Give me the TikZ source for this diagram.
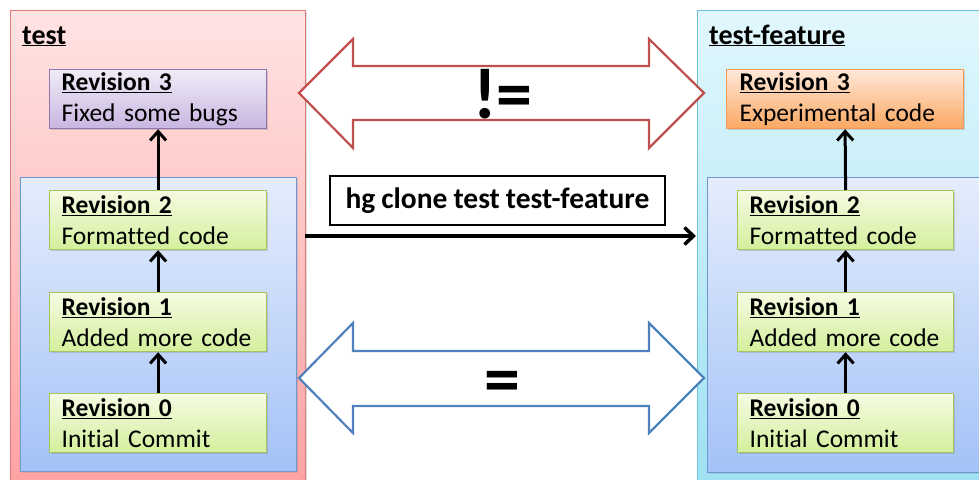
\documentclass[tikz,border=0pt]{standalone}
\usepackage{fontspec}
\setmainfont{Carlito}[Ligatures=NoCommon, WordSpace=0.9]
\usetikzlibrary{arrows.meta,shadows}
\definecolor{redB}{HTML}{DD7B79}
\definecolor{redT}{HTML}{FFE3E3}
\definecolor{redBot}{HTML}{FFA0A0}
\definecolor{bluB}{HTML}{6F97D2}
\definecolor{bluT}{HTML}{E5EDFC}
\definecolor{bluBot}{HTML}{A4C2F7}
\definecolor{cyaB}{HTML}{6CC4DA}
\definecolor{cyaT}{HTML}{E2F7FD}
\definecolor{cyaBot}{HTML}{9CE0F1}
\definecolor{grnB}{HTML}{A5C45E}
\definecolor{grnT}{HTML}{F6FBE3}
\definecolor{grnBot}{HTML}{D3EF9C}
\definecolor{purB}{HTML}{8E75AE}
\definecolor{purT}{HTML}{F0EBF7}
\definecolor{purBot}{HTML}{C9B6E1}
\definecolor{orgB}{HTML}{F39A55}
\definecolor{orgT}{HTML}{FEE8D9}
\definecolor{orgBot}{HTML}{FBA862}
\definecolor{dblRed}{HTML}{C0504D}
\definecolor{dblBlue}{HTML}{4F81BD}
\tikzset{
  panel/.style={draw, line width=1.2pt, rectangle, anchor=north west, inner sep=0pt,
    drop shadow={opacity=0.25, shadow xshift=1.5pt, shadow yshift=-1.5pt}},
  revbox/.style={draw, line width=1.2pt, rectangle, anchor=north west, inner xsep=12pt, inner ysep=0pt,
    minimum height=59pt, align=left, font=\fontsize{25.5}{31}\selectfont,
    drop shadow={opacity=0.3, shadow xshift=1.5pt, shadow yshift=-1.5pt}},
  greenrev/.style={revbox, draw=grnB, top color=grnT, bottom color=grnBot, text width=192pt},
  title/.style={anchor=base west, inner sep=0pt, font=\fontsize{28}{34}\selectfont\bfseries},
  conn/.style={line width=3pt, -{Straight Barb[length=9pt,width=16pt,line width=3pt]}},
  dbl/.style={line width=2.2pt, fill=white, line join=miter},
  sym/.style={anchor=base, inner sep=0pt, font=\fontsize{72}{80}\selectfont\bfseries}
}
\begin{document}
\begin{tikzpicture}[x=1pt,y=-1pt]
\useasboundingbox (0,0) rectangle (979,479);
\clip (0,0) rectangle (979,479);
\fill[white] (0,0) rectangle (979,479);

% left repository
\node[panel, draw=redB, top color=redT, bottom color=redBot, minimum width=295pt, minimum height=490pt] (outerL) at (10,10) {};
\node[title] (titleL) at (22,44) {\underline{test}};
\node[panel, draw=bluB, top color=bluT, bottom color=bluBot, minimum width=276pt, minimum height=294pt] (innerL) at (20,177) {};
\node[revbox, draw=purB, top color=purT, bottom color=purBot, text width=193pt] (r3L) at (49,69) {\underline{\textbf{Revision 3}}\\Fixed some bugs};
\node[greenrev, text width=193pt] (r2L) at (49,190) {\underline{\textbf{Revision 2}}\\Formatted code};
\node[greenrev, text width=193pt] (r1L) at (49,292) {\underline{\textbf{Revision 1}}\\Added more code};
\node[greenrev, text width=193pt] (r0L) at (49,393) {\underline{\textbf{Revision 0}}\\Initial Commit};

% right repository
\node[panel, draw=cyaB, top color=cyaT, bottom color=cyaBot, minimum width=300pt, minimum height=490pt] (outerR) at (697,10) {};
\node[title] (titleR) at (709,44) {\underline{test-feature}};
\node[panel, draw=bluB, top color=bluT, bottom color=bluBot, minimum width=290pt, minimum height=295pt] (innerR) at (707,177) {};
\node[revbox, draw=orgB, top color=orgT, bottom color=orgBot, inner xsep=13pt, text width=211pt] (r3R) at (726,69) {\underline{\textbf{Revision 3}}\\Experimental code};
\node[greenrev] (r2R) at (737,190) {\underline{\textbf{Revision 2}}\\Formatted code};
\node[greenrev] (r1R) at (737,292) {\underline{\textbf{Revision 1}}\\Added more code};
\node[greenrev] (r0R) at (737,393) {\underline{\textbf{Revision 0}}\\Initial Commit};

% history arrows
\draw[conn] (r0L.north) -- (r1L.south);
\draw[conn] (r1L.north) -- (r2L.south);
\draw[conn] (r2L.north) -- (r3L.south);
\draw[conn] (r0R.north) -- (r1R.south);
\draw[conn] (r1R.north) -- (r2R.south);
\draw[conn] (r2R.north) -- (r3R.south);

% double arrows
\draw[dbl, draw=dblRed] (299,93) -- (353,39) -- (353,66) -- (649,66) -- (649,39) -- (704,93)
  -- (649,148) -- (649,120) -- (353,120) -- (353,148) -- cycle;
\node[sym] (neq) at (503,118) {!=};
\draw[dbl, draw=dblBlue] (299,378) -- (353,323) -- (353,351) -- (649,351) -- (649,323) -- (704,378)
  -- (649,433) -- (649,406) -- (353,406) -- (353,433) -- cycle;
\node[sym] (eq) at (502,403) {=};

% clone command
\node[draw, line width=2pt, fill=white, minimum width=335pt, minimum height=49pt, inner sep=0pt,
  font=\fontsize{29.5}{34}\selectfont\bfseries] (cmd) at (497.5,200.5) {hg clone test test-feature};
\coordinate (cloneS) at (305,236);
\coordinate (cloneE) at (696,236);
\draw[conn, line width=3.5pt, -{Straight Barb[length=9pt,width=17pt,line width=3.5pt]}] (cloneS) -- (cloneE);
\end{tikzpicture}
\end{document}
